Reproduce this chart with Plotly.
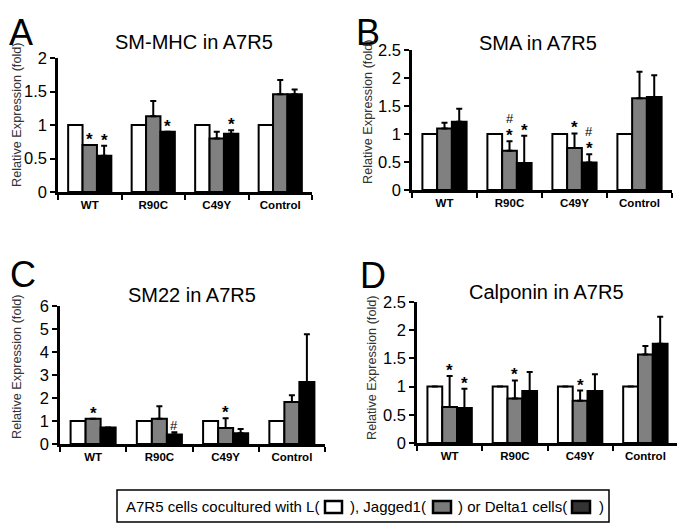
import plotly.graph_objects as go

W, H = 685, 530
OFF = 8  # page body margin of the written html

categories = ["WT", "R90C", "C49Y", "Control"]
series_names = ["L", "Jagged1", "Delta1"]

# Panel A: SM-MHC
smmhc_L = [1.0, 1.0, 1.0, 1.0]
smmhc_J = [0.70, 1.13, 0.80, 1.46]
smmhc_D = [0.54, 0.90, 0.87, 1.46]
smmhc_L_err = [0, 0, 0, 0]
smmhc_J_err = [0, 0.23, 0.10, 0.21]
smmhc_D_err = [0.15, 0, 0.05, 0.07]

# Panel B: SMA
sma_L = [1.0, 1.0, 1.0, 1.0]
sma_J = [1.10, 0.70, 0.75, 1.64]
sma_D = [1.22, 0.48, 0.49, 1.66]
sma_L_err = [0, 0, 0, 0]
sma_J_err = [0.10, 0.17, 0.26, 0.47]
sma_D_err = [0.23, 0.49, 0.15, 0.39]

# Panel C: SM22
sm22_L = [1.0, 1.0, 1.0, 1.0]
sm22_J = [1.10, 1.10, 0.70, 1.83]
sm22_D = [0.72, 0.41, 0.47, 2.70]
sm22_L_err = [0, 0, 0, 0]
sm22_J_err = [0, 0.54, 0.42, 0.29]
sm22_D_err = [0, 0.10, 0.18, 2.07]

# Panel D: Calponin
calp_L = [1.0, 1.0, 1.0, 1.0]
calp_J = [0.64, 0.79, 0.75, 1.57]
calp_D = [0.62, 0.92, 0.92, 1.76]
calp_L_err = [0, 0, 0, 0]
calp_J_err = [0.55, 0.32, 0.18, 0.15]
calp_D_err = [0.34, 0.34, 0.30, 0.48]

# significance marks: (category, series index, marks bottom->top)
smmhc_marks = [("WT", 1, ["*"]), ("WT", 2, ["*"]), ("R90C", 2, ["*"]), ("C49Y", 2, ["*"])]
sma_marks = [("R90C", 1, ["*", "#"]), ("R90C", 2, ["*"]), ("C49Y", 1, ["*"]), ("C49Y", 2, ["*", "#"])]
sm22_marks = [("WT", 1, ["*"]), ("R90C", 2, ["#"]), ("C49Y", 1, ["*"])]
calp_marks = [("WT", 1, ["*"]), ("WT", 2, ["*"]), ("R90C", 1, ["*"]), ("C49Y", 1, ["*"])]

titles = ["SM-MHC in A7R5", "SMA in A7R5", "SM22 in A7R5", "Calponin in A7R5"]
letters = ["A", "B", "C", "D"]
y_ranges = [(0, 2), (0, 2.5), (0, 6), (0, 2.5)]
y_dticks = [0.5, 0.5, 1, 0.5]

panels = [
    (smmhc_L, smmhc_J, smmhc_D, smmhc_L_err, smmhc_J_err, smmhc_D_err, smmhc_marks),
    (sma_L, sma_J, sma_D, sma_L_err, sma_J_err, sma_D_err, sma_marks),
    (sm22_L, sm22_J, sm22_D, sm22_L_err, sm22_J_err, sm22_D_err, sm22_marks),
    (calp_L, calp_J, calp_D, calp_L_err, calp_J_err, calp_D_err, calp_marks),
]

# layout geometry in page pixels: (x0, x1, ytop, ybottom)
boxes = [(58, 312, 58, 192), (412, 672, 50, 190), (60, 325, 306, 444), (417, 678, 302, 443)]
letter_pos = [(21, 10), (368, 10), (23, 252), (373, 253)]   # x center, box top
title_pos = [(194, 42), (538, 43), (192, 295), (546, 292)]
ytitle_pos = [(17, 115), (368, 112), (17, 367), (372, 368)]


def px(x):
    return (x - OFF) / W


def py(y):
    return 1 - (y - OFF) / H


fills = ["white", "#808080", "#000000"]
BARGAP = 0.32
FONT = "Liberation Sans, Arial, sans-serif"

fig = go.Figure()
annotations = []

for p, (vals_L, vals_J, vals_D, eL, eJ, eD, marks) in enumerate(panels):
    ax = "" if p == 0 else str(p + 1)
    vals = [vals_L, vals_J, vals_D]
    errs = [eL, eJ, eD]
    for s in range(3):
        fig.add_trace(go.Bar(
            x=categories, y=vals[s], name=series_names[s],
            marker=dict(color=fills[s], line=dict(color="black", width=2)),
            error_y=dict(type="data", array=errs[s], arrayminus=[0] * 4, symmetric=False,
                         color="black", thickness=2, width=3, visible=True),
            xaxis="x" + ax, yaxis="y" + ax, showlegend=False,
        ))
    x0, x1, yt, yb = boxes[p]
    fig.layout["xaxis" + ax] = dict(
        domain=[px(x0), px(x1)], anchor="y" + ax, type="category", automargin=False,
        showline=True, linecolor="black", linewidth=2.5,
        ticks="outside", tickson="boundaries", ticklen=5, tickwidth=2, tickcolor="black",
        tickfont=dict(family=FONT, size=11.5, color="black", weight="bold"),
        showgrid=False, zeroline=False, fixedrange=True,
    )
    fig.layout["yaxis" + ax] = dict(
        domain=[py(yb), py(yt)], anchor="x" + ax, automargin=False,
        range=list(y_ranges[p]), dtick=y_dticks[p], tick0=0,
        showline=True, linecolor="black", linewidth=2.5,
        ticks="outside", ticklen=5, tickwidth=2, tickcolor="black",
        tickfont=dict(family=FONT, size=16.5, color="black"),
        showgrid=False, zeroline=False, fixedrange=True,
    )
    # significance marks
    cat_w = (x1 - x0) / len(categories)
    bar_w = cat_w * (1 - BARGAP) / 3
    for cat, s, syms in marks:
        i = categories.index(cat)
        top = vals[s][i] + errs[s][i]
        for k, sym in enumerate(syms):
            annotations.append(dict(
                x=cat, y=top, xref="x" + ax, yref="y" + ax,
                xshift=(s - 1) * bar_w, yshift=(-6 if sym == "*" else -3) + k * 16,
                yanchor="bottom", showarrow=False, text=sym,
                font=dict(family=FONT, size=17 if sym == "*" else 13, color="black",
                          weight="bold" if sym == "*" else "normal"),
            ))
    lx, ly = letter_pos[p]
    annotations.append(dict(x=px(lx), y=py(ly), xref="paper", yref="paper", text=letters[p],
                            showarrow=False, xanchor="center", yanchor="top",
                            font=dict(family=FONT, size=36, color="black")))
    tx, ty = title_pos[p]
    annotations.append(dict(x=px(tx), y=py(ty), xref="paper", yref="paper", text=titles[p],
                            showarrow=False, xanchor="center", yanchor="middle",
                            font=dict(family=FONT, size=20, color="black")))
    yx, yy = ytitle_pos[p]
    annotations.append(dict(x=px(yx), y=py(yy), xref="paper", yref="paper",
                            text="Relative Expression (fold)", textangle=-90,
                            showarrow=False, xanchor="center", yanchor="middle",
                            font=dict(family=FONT, size=12.7, color="#333333")))

# legend box
shapes = [dict(type="rect", xref="paper", yref="paper",
               x0=px(117), x1=px(609), y0=py(522), y1=py(490),
               line=dict(color="black", width=1.5), fillcolor="white")]
legend_texts = [("A7R5 cells cocultured with L(", 124), ("), Jagged1(", 348),
                (") or Delta1 cells(", 456), (")", 597)]
for txt, lxp in legend_texts:
    annotations.append(dict(x=px(lxp), y=py(506), xref="paper", yref="paper", text=txt,
                            showarrow=False, xanchor="left", yanchor="middle",
                            font=dict(family=FONT, size=15, color="black")))
swatches = [(325, 342, "white"), (433, 451, "#7a7a7a"), (572, 590, "#333333")]
for sx0, sx1, col in swatches:
    shapes.append(dict(type="rect", xref="paper", yref="paper",
                       x0=px(sx0), x1=px(sx1), y0=py(513), y1=py(501),
                       line=dict(color="black", width=2.5), fillcolor=col))

fig.update_layout(
    template="none",
    width=W, height=H, margin=dict(l=0, r=0, t=0, b=0, pad=0, autoexpand=False),
    paper_bgcolor="white", plot_bgcolor="white",
    barmode="group", bargap=BARGAP, bargroupgap=0,
    showlegend=False, annotations=annotations, shapes=shapes,
    font=dict(family=FONT, color="black"),
)

fig.write_html("out.html")
